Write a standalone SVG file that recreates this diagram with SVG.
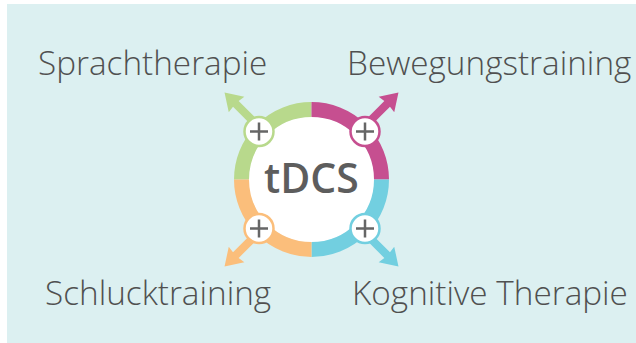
<svg xmlns="http://www.w3.org/2000/svg" width="636" height="343" viewBox="0 0 636 343">
<style>
.lbl{font-family:"Open Sans","Liberation Sans",sans-serif;font-weight:300;font-size:33.3px;fill:#505050}
.ctr{font-family:"Open Sans","Liberation Sans",sans-serif;font-weight:600;font-size:41px;fill:#5d5d5d}
.seg{fill:none;stroke-width:15}
.pc{fill:#fff;stroke-width:2.5}
.plus{stroke:#666;stroke-width:2.5;fill:none}
</style>
<defs>
<path id="arr" d="M70,-4 L107,-4 L106,-11 L123,0 L106,11 L107,4 L70,4 Z"/>
<g id="plus"><path class="plus" d="M-9,0 H9 M0,-9 V9"/></g>
</defs>
<rect x="7" y="4" width="629" height="339" fill="#dcf0f1"/>
<g id="connectors">
<use href="#arr" fill="#b8d98c" transform="translate(311.5,179.5) rotate(-135)"/>
<use href="#arr" fill="#c64f90" transform="translate(311.5,179.5) rotate(-45)"/>
<use href="#arr" fill="#72cfe0" transform="translate(311.5,179.5) rotate(45)"/>
<use href="#arr" fill="#fbbe7b" transform="translate(311.5,179.5) rotate(135)"/>
</g>
<g id="tdcs">
<circle cx="311.5" cy="179.5" r="63" fill="#fff"/>
<path class="seg" stroke="#b8d98c" d="M241.5,179.5 A70,70 0 0 1 311.5,109.5"/>
<path class="seg" stroke="#c64f90" d="M311.5,109.5 A70,70 0 0 1 381.5,179.5"/>
<path class="seg" stroke="#72cfe0" d="M381.5,179.5 A70,70 0 0 1 311.5,249.5"/>
<path class="seg" stroke="#fbbe7b" d="M311.5,249.5 A70,70 0 0 1 241.5,179.5"/>
<text class="ctr" x="311.5" y="193" text-anchor="middle">tDCS</text>
</g>
<g id="plus-sprach">
<circle class="pc" stroke="#b8d98c" cx="259" cy="131.5" r="14.5"/>
<use href="#plus" transform="translate(259,131.5)"/>
</g>
<g id="plus-bewegung">
<circle class="pc" stroke="#c64f90" cx="365" cy="131.5" r="14.5"/>
<use href="#plus" transform="translate(365,131.5)"/>
</g>
<g id="plus-kognitiv">
<circle class="pc" stroke="#72cfe0" cx="365" cy="228.5" r="14.5"/>
<use href="#plus" transform="translate(365,228.5)"/>
</g>
<g id="plus-schluck">
<circle class="pc" stroke="#fbbe7b" cx="259" cy="228.5" r="14.5"/>
<use href="#plus" transform="translate(259,228.5)"/>
</g>
<g id="n-sprach"><text class="lbl" x="38" y="75">Sprachtherapie</text></g>
<g id="n-bewegung"><text class="lbl" x="347" y="75">Bewegungstraining</text></g>
<g id="n-schluck"><text class="lbl" x="45" y="305">Schlucktraining</text></g>
<g id="n-kognitiv"><text class="lbl" x="352" y="305">Kognitive Therapie</text></g>
</svg>
